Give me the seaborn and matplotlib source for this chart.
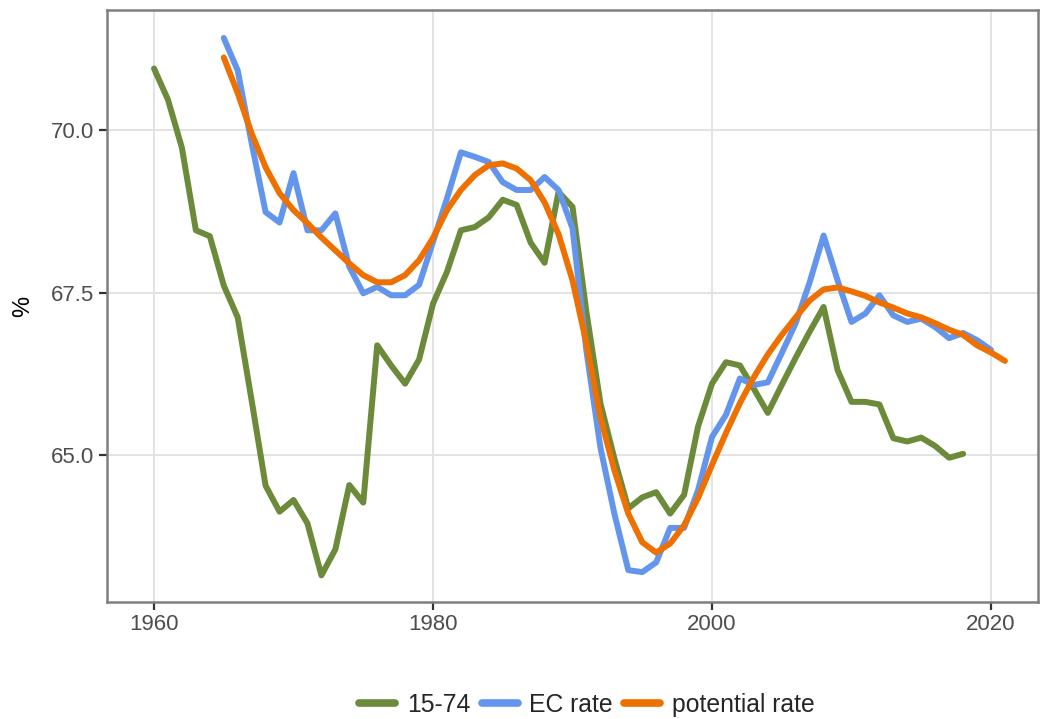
import numpy as np
import pandas as pd
import matplotlib
matplotlib.use("Agg")
import matplotlib.pyplot as plt
import seaborn as sns

years_1574 = list(range(1960, 2019))
rate_1574 = [70.95, 70.47, 69.73, 68.46, 68.37, 67.61, 67.12, 65.84, 64.53, 64.13,
             64.31, 63.95, 63.15, 63.55, 64.54, 64.27, 66.69, 66.38, 66.10, 66.47,
             67.33, 67.82, 68.46, 68.51, 68.66, 68.93, 68.85, 68.27, 67.96, 69.05,
             68.82, 67.20, 65.80, 64.95, 64.18, 64.35, 64.43, 64.10, 64.39, 65.44,
             66.10, 66.43, 66.38, 66.02, 65.65, 66.08, 66.50, 66.90, 67.28, 66.31,
             65.82, 65.82, 65.78, 65.26, 65.21, 65.27, 65.14, 64.96, 65.02]

years_ec = list(range(1965, 2021))
rate_ec = [71.42, 70.92, 69.80, 68.74, 68.58, 69.34, 68.46, 68.46, 68.72, 67.90,
           67.49, 67.59, 67.46, 67.46, 67.62, 68.28, 68.95, 69.66, 69.59, 69.51,
           69.20, 69.08, 69.08, 69.28, 69.08, 68.49, 66.60, 65.12, 64.10, 63.23,
           63.20, 63.35, 63.88, 63.88, 64.46, 65.28, 65.62, 66.18, 66.08, 66.12,
           66.57, 67.03, 67.66, 68.38, 67.69, 67.05, 67.18, 67.46, 67.15, 67.05,
           67.10, 66.97, 66.80, 66.88, 66.77, 66.62]

years_pot = list(range(1965, 2022))
rate_pot = [71.12, 70.57, 69.95, 69.43, 69.03, 68.77, 68.57, 68.35, 68.15, 67.95,
            67.77, 67.66, 67.66, 67.77, 68.00, 68.34, 68.77, 69.08, 69.31, 69.46,
            69.49, 69.41, 69.23, 68.89, 68.40, 67.69, 66.72, 65.58, 64.77, 64.10,
            63.66, 63.50, 63.64, 63.92, 64.34, 64.85, 65.34, 65.80, 66.20, 66.55,
            66.85, 67.12, 67.38, 67.55, 67.58, 67.52, 67.45, 67.35, 67.27, 67.18,
            67.12, 67.03, 66.93, 66.85, 66.69, 66.58, 66.45]

series_names = ["15-74", "EC rate", "potential rate"]
colors = ["#6b8a3a", "#6495ed", "#ee7000"]
x_ticks = [1960, 1980, 2000, 2020]
y_ticks = [65.0, 67.5, 70.0]

df = pd.concat([
    pd.DataFrame({"year": years_1574, "value": rate_1574, "series": series_names[0]}),
    pd.DataFrame({"year": years_ec, "value": rate_ec, "series": series_names[1]}),
    pd.DataFrame({"year": years_pot, "value": rate_pot, "series": series_names[2]}),
])

sns.set_theme(style="white")
plt.rcParams["font.family"] = ["Liberation Sans", "DejaVu Sans"]

fig = plt.figure(figsize=(10.4, 7.19), dpi=100)
ax = fig.add_axes([107 / 1040, 1 - 602 / 719, (1038 - 107) / 1040, (602 - 10) / 719])

sns.lineplot(data=df, x="year", y="value", hue="series", hue_order=series_names,
             palette=colors, linewidth=4.3, ax=ax, legend=True)

ax.set_xlim(1956.63, 2023.37)
ax.set_ylim(62.74, 71.85)
ax.set_xticks(x_ticks)
ax.set_xticklabels([str(t) for t in x_ticks])
ax.set_yticks(y_ticks)
ax.set_yticklabels([f"{t:.1f}" for t in y_ticks])
ax.grid(True, color="#e3e3e3", linewidth=1.4)
ax.set_axisbelow(True)
for s in ax.spines.values():
    s.set_color("#7f7f7f")
    s.set_linewidth(1.8)
ax.tick_params(axis="both", which="major", length=5.5, width=1.6, color="#333333",
               labelsize=16, labelcolor="#4d4d4d", pad=3.5, bottom=True, left=True)
ax.set_xlabel("")
ax.set_ylabel("%", fontsize=17, color="black", labelpad=12)

handles, labels = ax.get_legend_handles_labels()
ax.legend_.remove()
fig.legend(handles, labels, loc="center", bbox_to_anchor=(587 / 1040, 1 - 705 / 719), ncol=3,
           frameon=False, fontsize=17.8, handlelength=1.46, handletextpad=0.48,
           columnspacing=0.45, borderpad=0, borderaxespad=0)
for h in fig.legends[0].legend_handles:
    h.set_linewidth(5.5)

fig.savefig("out.png", dpi=100)
